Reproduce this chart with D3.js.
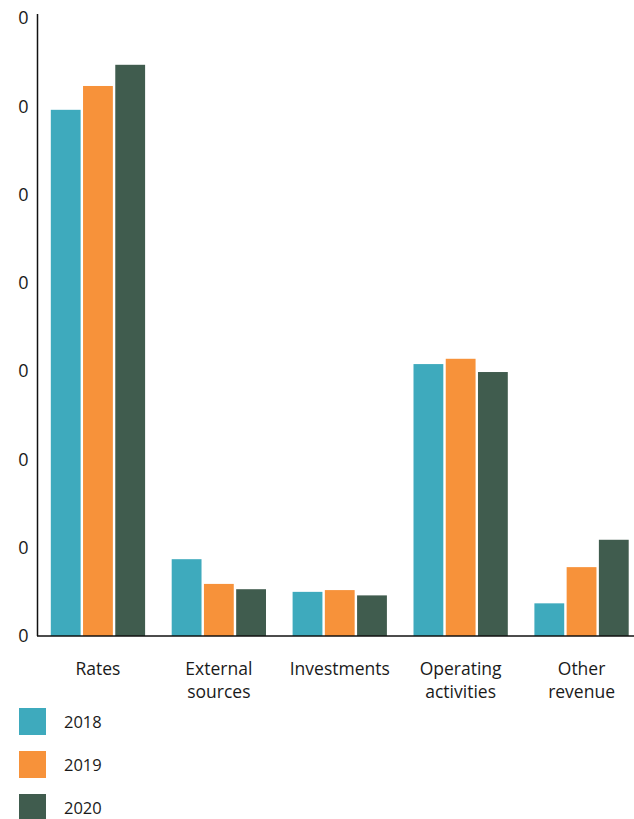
<!DOCTYPE html>
<html>
<head>
<meta charset="utf-8">
<script src="https://cdn.jsdelivr.net/npm/d3@7"></script>
<style>
  html, body { margin: 0; padding: 0; background: #fff; }
  svg { display: block; font-family: "Open Sans", "Noto Sans", sans-serif; }
</style>
</head>
<body>
<svg id="chart" width="634" height="819"></svg>
<script>
const categories = [["Rates"], ["External", "sources"], ["Investments"], ["Operating", "activities"], ["Other", "revenue"]];
const seriesNames = ["2018", "2019", "2020"];
const values2018 = [59.6, 8.7, 5.0, 30.8, 3.7];
const values2019 = [62.3, 5.9, 5.2, 31.4, 7.8];
const values2020 = [64.7, 5.3, 4.6, 29.9, 10.9];
const tickValues = [0, 10, 20, 30, 40, 50, 60, 70];
const tickLabels = ["0", "0", "0", "0", "0", "0", "0", "0"];
const colors = ["#3EAABD", "#F7923A", "#405C4E"];

const series = [values2018, values2019, values2020];
const svg = d3.select("#chart");

const y = d3.scaleLinear().domain([0, 70]).range([636, 18]);
const x = d3.scaleBand().domain(d3.range(categories.length)).range([37.5, 642]).paddingInner(0.22).paddingOuter(0.11);
const xs = d3.scaleBand().domain(d3.range(seriesNames.length)).range([0, x.bandwidth()]).paddingInner(0.075);

// bars
const groups = svg.append("g").selectAll("g").data(categories).join("g")
  .attr("transform", (d, i) => `translate(${x(i)},0)`);
groups.selectAll("rect").data((d, i) => series.map((s, k) => ({k, v: s[i]})))
  .join("rect")
  .attr("x", d => xs(d.k))
  .attr("width", xs.bandwidth())
  .attr("y", d => y(d.v))
  .attr("height", d => y(0) - y(d.v))
  .attr("fill", d => colors[d.k]);

// y axis
const yAxis = d3.axisLeft(y).tickValues(tickValues).tickSize(0).tickPadding(9)
  .tickFormat((d, i) => tickLabels[i]);
const ya = svg.append("g").attr("transform", "translate(37.5,0)").call(yAxis);
ya.select(".domain").remove();
ya.selectAll("text").attr("font-size", 18).attr("fill", "#1a1a1a")
  .attr("font-family", "'Open Sans', sans-serif");
svg.append("line").attr("x1", 37.5).attr("x2", 37.5).attr("y1", 14).attr("y2", y(0))
  .attr("stroke", "#111").attr("stroke-width", 1.5);
svg.append("line").attr("x1", 37).attr("x2", 634).attr("y1", y(0)).attr("y2", y(0))
  .attr("stroke", "#111").attr("stroke-width", 1.5);

// category labels
const cl = svg.append("g").selectAll("text").data(categories).join("text")
  .attr("x", (d, i) => x(i) + x.bandwidth() / 2)
  .attr("y", 675)
  .attr("text-anchor", "middle")
  .attr("font-size", 17.5)
  .attr("fill", "#1a1a1a");
cl.selectAll("tspan").data(d => d).join("tspan")
  .attr("x", function() { return this.parentNode.getAttribute("x"); })
  .attr("dy", (d, i) => i === 0 ? 0 : 23)
  .text(d => d);

// legend
const leg = svg.append("g").selectAll("g").data(seriesNames).join("g")
  .attr("transform", (d, i) => `translate(19,${708 + i * 43})`);
leg.append("rect").attr("width", 27).attr("height", 27).attr("fill", (d, i) => colors[i]);
leg.append("text").attr("x", 45).attr("y", 14).attr("dy", "0.35em")
  .attr("font-size", 16.5).attr("fill", "#1a1a1a").text(d => d);
</script>
</body>
</html>
